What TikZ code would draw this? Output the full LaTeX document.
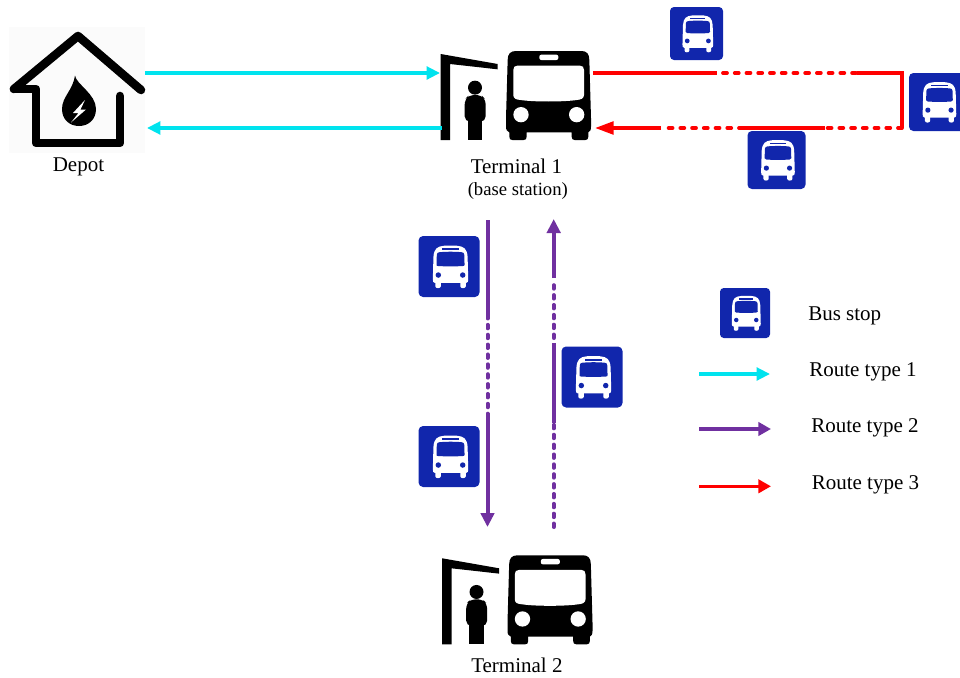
\documentclass[tikz,border=0pt]{standalone}
\usepackage{fontspec}
\setmainfont{Liberation Serif}
\usetikzlibrary{arrows.meta}
\definecolor{stopblue}{HTML}{1126AC}
\definecolor{routecyan}{HTML}{00E3EE}
\definecolor{routepurple}{HTML}{7030A0}
\definecolor{routered}{HTML}{FF0000}
\definecolor{depotbg}{HTML}{FBFBFB}
\tikzset{
  lbl/.style={font=\fontsize{15.75}{18}\selectfont,anchor=base west,inner sep=0pt,text=black},
  lblsmall/.style={font=\fontsize{14}{16}\selectfont,anchor=base west,inner sep=0pt,text=black},
  cyanroute/.style={draw=routecyan,line width=2.4pt},
  cyanarrow/.style={cyanroute,-{Triangle[length=10pt,width=9.5pt]}},
  purpleseg/.style={draw=routepurple,line width=3pt},
  purplearrow/.style={purpleseg,-{Triangle[length=10.5pt,width=10pt]}},
  purpledots/.style={draw=routepurple,line width=3pt,line cap=round,dash pattern=on 2.6pt off 4.8pt},
  redseg/.style={draw=routered,line width=2.6pt},
  redthick/.style={draw=routered,line width=3.2pt},
  redarrow/.style={redseg,-{Triangle[length=14pt,width=9.5pt]}},
  reddots/.style={draw=routered,line width=2.8pt,line cap=round,dash pattern=on 3pt off 5.8pt},
  legendpurple/.style={draw=routepurple,line width=2.4pt,-{Triangle[length=9.5pt,width=10pt]}},
  legendred/.style={draw=routered,line width=2.4pt,-{Triangle[length=9.5pt,width=10pt]}},
  hitbox/.style={inner sep=0pt,outer sep=0pt},
  pics/busstop/.style={code={
    \pgfmathsetlengthmacro{\stoprad}{#1*0.075*0.75pt}
    \begin{scope}[scale=#1]
      \fill[stopblue,rounded corners=\stoprad] (-.5,-.5) rectangle (.5,.5);
      \begin{scope}[shift={(.015,0)}]
      \fill[white] (-.245,.27) .. controls (-.275,.27) and (-.28,.24) .. (-.28,.21)
        -- (-.27,-.16) .. controls (-.26,-.29) and (-.21,-.33) .. (-.1,-.34)
        .. controls (-.03,-.345) and (.05,-.345) .. (.12,-.34)
        .. controls (.23,-.33) and (.28,-.29) .. (.29,-.16)
        -- (.3,.21) .. controls (.3,.24) and (.295,.27) .. (.265,.27) -- cycle;
      \fill[white] (-.24,.26) -- (-.24,.325) .. controls (-.24,.365) and (-.15,.365) .. (-.15,.325) -- (-.15,.26) -- cycle;
      \fill[white] (.17,.26) -- (.17,.325) .. controls (.17,.365) and (.26,.365) .. (.26,.325) -- (.26,.26) -- cycle;
      \fill[stopblue] (-.215,-.19) .. controls (-.215,-.22) and (-.2,-.23) .. (-.17,-.235)
        .. controls (-.05,-.245) and (.07,-.245) .. (.19,-.235)
        .. controls (.22,-.23) and (.235,-.22) .. (.235,-.19)
        -- (.24,-.03) .. controls (.24,-.012) and (.23,-.008) .. (.21,-.008)
        .. controls (.1,0) and (-.08,0) .. (-.19,-.008)
        .. controls (-.21,-.008) and (-.22,-.012) .. (-.22,-.03) -- cycle;
      \fill[stopblue] (-.13,-.3) rectangle (.15,-.27);
      \fill[stopblue] (-.19,.14) circle (.045);
      \fill[stopblue] (.21,.14) circle (.045);
      \end{scope}
    \end{scope}
  }},
  pics/terminalicon/.style={code={
    \begin{scope}[scale=1/3]
      % shelter
      \fill[black] (32,42) -- (203,72) -- (203,88) -- (60,72) -- (60,300) -- (32,300) -- cycle;
      % person
      \fill[black] (135,143) circle (21);
      \fill[black,rounded corners=4pt] (104,245) -- (104,178) -- (118,165) -- (153,165) -- (167,178) -- (167,245) -- cycle;
      \fill[black] (113,235) rectangle (157,300);
      % bus
      \fill[black] (258,33) -- (455,33) .. controls (470,33) and (478,42) .. (478,60)
        -- (483,235) -- (483,260) .. controls (483,270) and (480,275) .. (475,277)
        -- (475,290) .. controls (475,297) and (472,300) .. (466,300)
        -- (434,300) .. controls (428,300) and (425,297) .. (425,290) -- (425,277)
        -- (290,277) -- (290,290) .. controls (290,297) and (287,300) .. (281,300)
        -- (247,300) .. controls (241,300) and (238,297) .. (238,290) -- (238,277)
        .. controls (232,275) and (228,270) .. (228,260) -- (228,235) -- (233,60)
        .. controls (233,42) and (241,33) .. (258,33) -- cycle;
      \fill[white] (262,77) -- (450,77) .. controls (458,77) and (462,81) .. (462,90)
        -- (462,165) .. controls (462,176) and (452,179) .. (440,180)
        .. controls (400,186) and (310,186) .. (272,180)
        .. controls (258,179) and (250,176) .. (250,165) -- (250,90)
        .. controls (250,81) and (254,77) .. (262,77) -- cycle;
      \fill[white,rounded corners=1.5pt] (328,44) rectangle (385,60);
      \fill[white] (273,224) circle (23);
      \fill[white] (440,224) circle (23);
    \end{scope}
  }},
}
\begin{document}
\begin{tikzpicture}[x=0.75pt,y=-0.75pt]
\clip (0,0) rectangle (960,678);
\useasboundingbox (0,0) rectangle (960,678);

% Depot
\node[hitbox,fill=depotbg,minimum width=102pt,minimum height=94.5pt] (depot) at (77,90) {};
\draw[black,line width=6.4pt,line cap=round,line join=round]
  (14,89) -- (78,36) -- (141,90);
\draw[black,line width=6.4pt,line cap=round,line join=round]
  (14,89) -- (36,89) -- (36,143) -- (120,143) -- (120,96);
\fill[black] (75,75.5) .. controls (76,84) and (96,94) .. (96,109)
  .. controls (96,120) and (88,126) .. (79,126)
  .. controls (70,126) and (62,120) .. (62,109)
  .. controls (62,97) and (73,90) .. (75,75.5) -- cycle;
\fill[white] (85,100) -- (73,113) -- (78.5,113) -- (71,122.5) -- (86,109.5) -- (80.5,109.5) -- cycle;
\node[lbl] (depotlabel) at (52.5,171) {Depot};

% Terminals
\pic at (430,40) {terminalicon};
\node[hitbox,minimum width=112.5pt,minimum height=67pt] (t1) at (516,95.5) {};
\node[lbl] (t1label) at (470.5,173) {Terminal 1};
\node[lblsmall] (t1sub) at (467.5,195) {(base station)};
\pic at (431.5,544.3) {terminalicon};
\node[hitbox,minimum width=112.5pt,minimum height=67pt] (t2) at (517.5,599.8) {};
\node[lbl] (t2label) at (471,672) {Terminal 2};

% Bus stops
\pic at (696.5,33.5) {busstop={53}};
\pic at (938,102) {busstop={58}};
\pic at (776.5,160) {busstop={58}};
\pic at (449,266.5) {busstop={61}};
\pic at (449,456.5) {busstop={61}};
\pic at (592,377) {busstop={61}};
\pic at (745,313) {busstop={50}};

% Route type 1
\coordinate (c1a) at (145,73);
\coordinate (c1b) at (440,73);
\coordinate (c2a) at (442,128);
\coordinate (c2b) at (147,128);
\draw[cyanarrow] (c1a) -- (c1b);
\draw[cyanarrow] (c2a) -- (c2b);

% Route type 3
\coordinate (r1) at (593,73);
\coordinate (r2) at (717,73);
\coordinate (r3) at (723,73);
\coordinate (r4) at (857,73);
\coordinate (r5) at (869,73);
\coordinate (r6) at (902,73);
\coordinate (r7) at (902,128);
\coordinate (r8) at (825,128);
\coordinate (r9) at (743,128);
\coordinate (r10) at (664,128);
\coordinate (r11) at (661,128);
\coordinate (r12) at (595,128);
\draw[redseg] (r1) -- (r2);
\draw[reddots] (r3) -- (r4);
\draw[redseg] (r4) -- (r5);
\draw[redthick,line join=miter] (r5) -- (r6) -- (r7);
\draw[reddots] (r7) -- (r8);
\draw[redthick] (r8) -- (r9);
\draw[reddots] (r9) -- (r10);
\draw[redarrow] (r11) -- (r12);

% Route type 2
\coordinate (p1) at (487.5,220);
\coordinate (p2) at (487.5,315);
\coordinate (p3) at (487.5,414);
\coordinate (p4) at (487.5,527);
\coordinate (q1) at (553.7,527);
\coordinate (q2) at (553.7,423);
\coordinate (q3) at (553.7,343);
\coordinate (q4) at (553.7,338);
\coordinate (q5) at (553.7,280);
\coordinate (q6) at (553.7,278);
\coordinate (q7) at (553.7,219);
\draw[purpleseg] (p1) -- (p2);
\draw[purpledots] (p2) -- (p3);
\draw[purplearrow] (p3) -- (p4);
\draw[purpledots] (q1) -- (q2);
\draw[purpleseg] (q2) -- (q3);
\draw[purpledots] (q4) -- (q5);
\draw[purplearrow] (q6) -- (q7);

% Legend
\coordinate (l1a) at (699,374);
\coordinate (l1b) at (770,374);
\coordinate (l2a) at (699,429);
\coordinate (l2b) at (771,429);
\coordinate (l3a) at (699,486.3);
\coordinate (l3b) at (771,486.3);
\draw[cyanarrow] (l1a) -- (l1b);
\draw[legendpurple] (l2a) -- (l2b);
\draw[legendred] (l3a) -- (l3b);
\node[lbl] (lstop) at (808,320) {Bus stop};
\node[lbl] (lr1) at (809,376) {Route type 1};
\node[lbl] (lr2) at (811,432) {Route type 2};
\node[lbl] (lr3) at (811.5,489) {Route type 3};
\end{tikzpicture}
\end{document}
